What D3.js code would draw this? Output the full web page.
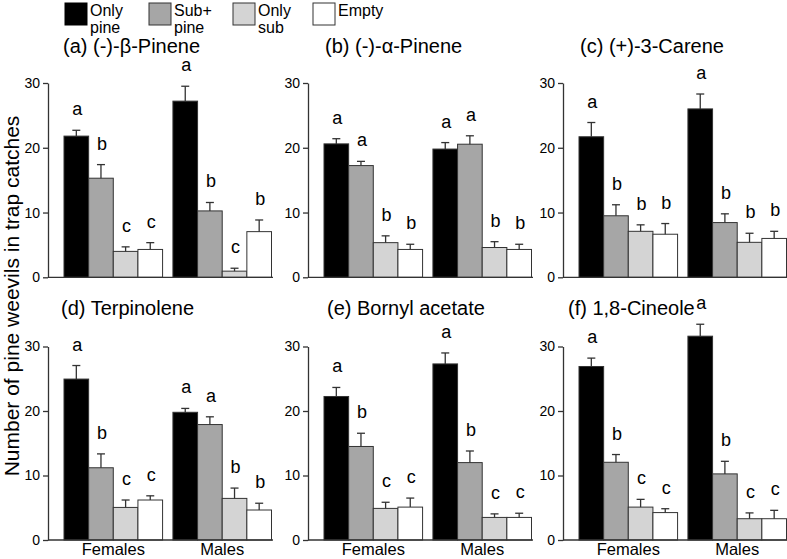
<!DOCTYPE html>
<html>
<head>
<meta charset="utf-8">
<script src="https://cdn.jsdelivr.net/npm/d3@7"></script>
<style>
  html, body { margin: 0; padding: 0; background: #fff; }
  svg text { font-family: "Liberation Sans", Arial, Helvetica, sans-serif; fill: #000; }
</style>
</head>
<body>
<svg id="chart" width="787" height="559"></svg>
<script>
// ---------------- data ----------------
const panelTitles = ["(a) (-)-β-Pinene", "(b) (-)-α-Pinene", "(c) (+)-3-Carene",
                     "(d) Terpinolene", "(e) Bornyl acetate", "(f) 1,8-Cineole"];
const sexes = ["Females", "Males"];
const treatments = ["Only pine", "Sub+ pine", "Only sub", "Empty"];
const legendLines = [["Only", "pine"], ["Sub+", "pine"], ["Only", "sub"], ["Empty"]];
const yTicks = [0, 10, 20, 30];
const yLabel = "Number of pine weevils in trap catches";

// means [panel][sex][treatment]
const means = [
  [[21.8, 15.3, 4.0, 4.3],  [27.2, 10.25, 0.95, 7.05]],
  [[20.6, 17.25, 5.35, 4.3], [19.8, 20.55, 4.6, 4.3]],
  [[21.7, 9.5, 7.1, 6.65],  [26.0, 8.45, 5.4, 6.0]],
  [[24.95, 11.2, 5.05, 6.2], [19.8, 17.9, 6.45, 4.65]],
  [[22.25, 14.5, 4.9, 5.1], [27.3, 12.0, 3.5, 3.5]],
  [[26.9, 12.05, 5.1, 4.25], [31.6, 10.25, 3.3, 3.3]]
];
// standard errors [panel][sex][treatment]
const sems = [
  [[0.9, 2.1, 0.7, 1.05],  [2.3, 1.3, 0.45, 1.8]],
  [[0.8, 0.65, 1.05, 0.8], [1.0, 1.3, 0.9, 0.8]],
  [[2.2, 1.7, 1.0, 1.65],  [2.3, 1.35, 1.4, 1.1]],
  [[2.1, 2.15, 1.15, 0.65], [0.6, 1.2, 1.6, 1.05]],
  [[1.4, 2.05, 0.95, 1.4], [1.7, 1.8, 0.55, 0.65]],
  [[1.3, 1.2, 1.2, 0.6],   [1.85, 1.95, 0.9, 1.3]]
];
// significance letters [panel][sex][treatment]
const letters = [
  [["a","b","c","c"], ["a","b","c","b"]],
  [["a","a","b","b"], ["a","a","b","b"]],
  [["a","b","b","b"], ["a","b","b","b"]],
  [["a","b","c","c"], ["a","a","b","b"]],
  [["a","b","c","c"], ["a","b","c","c"]],
  [["a","b","c","c"], ["a","b","c","c"]]
];

// ---------------- layout / style ----------------
const colors = ["#000000", "#a6a6a6", "#d4d4d4", "#ffffff"];
const colX = [48, 308, 563];
const rowY0 = [277.3, 540];
const rowY30 = [83, 346.5];
const titleDx = [15, 17, 17, 13, 19, 5];
const titleBaseline = [52.5, 315];
const legendX = [65, 149, 233, 313];

const svg = d3.select("#chart");

// legend
legendLines.forEach((lines, i) => {
  const g = svg.append("g").attr("transform", `translate(${legendX[i]},3)`);
  g.append("rect").attr("x", 0).attr("y", 0).attr("width", 22).attr("height", 22)
    .attr("fill", colors[i]).attr("stroke", i === 0 ? "#000" : "#333").attr("stroke-width", 1);
  lines.forEach((t, j) => {
    g.append("text").attr("x", 25).attr("y", 12.5 + j * 17)
      .attr("font-size", 16).text(t);
  });
});

// y label
svg.append("text")
  .attr("transform", "translate(18.5,296) rotate(-90)")
  .attr("text-anchor", "middle")
  .attr("font-size", 21)
  .text(yLabel);

panelTitles.forEach((title, p) => {
  const col = p % 3, row = Math.floor(p / 3);
  const x0 = colX[col];
  const y = d3.scaleLinear().domain([0, 30]).range([rowY0[row], rowY30[row]]);
  const xg = d3.scaleBand().domain(sexes).range([x0 + 16, x0 + 223.5])
    .paddingInner(0.095).paddingOuter(0);
  const xt = d3.scaleBand().domain(treatments).range([0, xg.bandwidth()]).padding(0);

  const g = svg.append("g");

  // title
  g.append("text").attr("x", x0 + titleDx[p]).attr("y", titleBaseline[row])
    .attr("font-size", 20).text(title);

  // bars
  sexes.forEach((s, si) => {
    treatments.forEach((t, ti) => {
      const m = means[p][si][ti], e = sems[p][si][ti];
      const bx = xg(s) + xt(t);
      const cx = bx + xt.bandwidth() / 2;
      g.append("rect")
        .attr("x", bx).attr("y", y(m))
        .attr("width", xt.bandwidth()).attr("height", y(0) - y(m))
        .attr("fill", colors[ti]).attr("stroke", "#333").attr("stroke-width", 1);
      // error bar (upper only)
      g.append("line").attr("x1", cx).attr("x2", cx)
        .attr("y1", y(m)).attr("y2", y(m + e))
        .attr("stroke", "#333").attr("stroke-width", 1.3);
      g.append("line").attr("x1", cx - 4).attr("x2", cx + 4)
        .attr("y1", y(m + e)).attr("y2", y(m + e))
        .attr("stroke", "#333").attr("stroke-width", 1.3);
      // letter
      g.append("text").attr("x", cx + 1).attr("y", y(m + e) - 15)
        .attr("text-anchor", "middle").attr("font-size", 18)
        .text(letters[p][si][ti]);
    });
  });

  // x baseline
  g.append("line").attr("x1", x0).attr("x2", x0 + 225)
    .attr("y1", y(0)).attr("y2", y(0))
    .attr("stroke", "#333").attr("stroke-width", 1.3);

  // y axis
  const axis = g.append("g").attr("transform", `translate(${x0},0)`)
    .call(d3.axisLeft(y).tickValues(yTicks).tickSize(5).tickPadding(3).tickSizeOuter(0));
  axis.select(".domain").attr("stroke", "#333").attr("stroke-width", 1.3);
  axis.selectAll(".tick line").attr("stroke", "#333").attr("stroke-width", 1.3);
  axis.selectAll(".tick text").attr("font-size", 14)
    .attr("font-family", "Liberation Sans, Arial, sans-serif").attr("fill", "#000");

  // category labels only on bottom row
  if (row === 1) {
    sexes.forEach(s => {
      g.append("text").attr("x", xg(s) + xg.bandwidth() / 2).attr("y", 555)
        .attr("text-anchor", "middle").attr("font-size", 16.5).text(s);
    });
  }
});
</script>
</body>
</html>
